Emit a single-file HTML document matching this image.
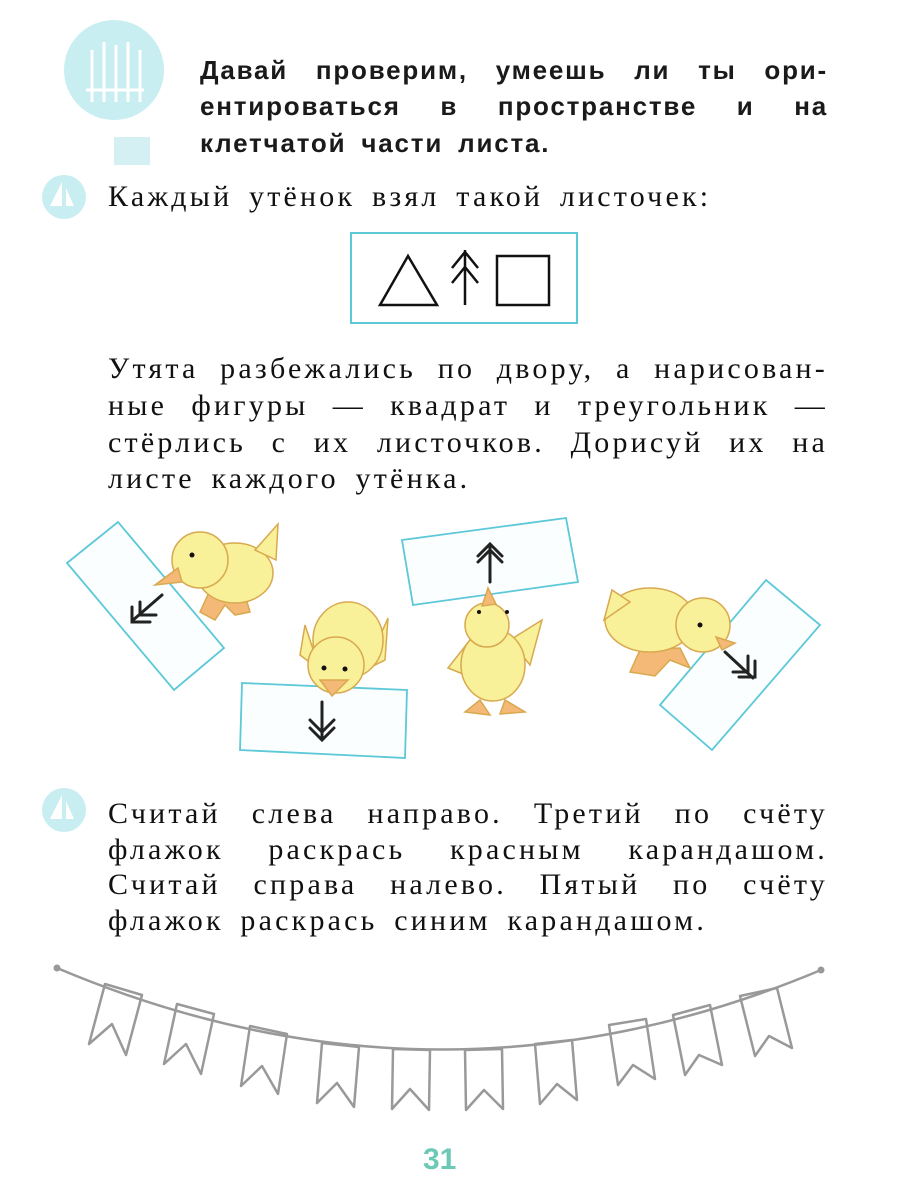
<!DOCTYPE html>
<html><head><meta charset="utf-8"><style>
body{margin:0;background:#fff;}
#p{position:relative;width:900px;height:1200px;overflow:hidden;background:#fff;}
.l{position:absolute;text-align:justify;text-align-last:justify;white-space:nowrap;color:#111;}
.s{font-family:"Liberation Serif",serif;font-size:30px;letter-spacing:3.2px;left:108px;width:720px;}
.b{font-family:"Liberation Sans",sans-serif;font-weight:bold;font-size:26px;letter-spacing:1.8px;left:200px;width:628px;color:#1a1a1a;}
svg{position:absolute;left:0;top:0;}
</style></head><body><div id="p">
<svg width="900" height="1200">
<circle cx="114" cy="70" r="50" fill="#c8eef2"/>
<g stroke="#fff" stroke-width="3" fill="none"><path d="M92 50v52M104 42v60M116 45v57M128 42v60M140 50v52M86 90h58"/></g>
<rect x="114" y="137" width="36" height="28" fill="#d4f0f3"/>
<circle cx="64" cy="197" r="22" fill="#c8eef2"/><path d="M62 182v24h-12zM66 188v18h8z" fill="#fff"/>
<circle cx="64" cy="810" r="22" fill="#c8eef2"/><path d="M62 795v24h-12zM66 801v18h8z" fill="#fff"/>
<rect x="351" y="233" width="226" height="90" fill="#fff" stroke="#5cc8d8" stroke-width="2"/>
<g stroke="#111" stroke-width="2.5" fill="none">
<path d="M380 305L408 256L437 305Z"/><rect x="497" y="256" width="52" height="49"/>
<path d="M465 305V250M452 268L465 252L478 268M452 283L465 267L478 283"/></g>
<g stroke="#5cc8d8" stroke-width="1.8" fill="#fafeff">
<polygon points="67,563 118,522 224,648 174,690"/>
<polygon points="242,683 407,690 405,758 240,750"/>
<polygon points="402,540 566,518 578,582 413,605"/>
<polygon points="660,705 766,580 820,625 712,750"/></g>
<g stroke="#222" stroke-width="3" fill="none" stroke-linecap="round">
<path d="M162 595L132 621M132 607V622H150M140 602V615H156"/>
<path d="M322 702V740M310 720L322 732L334 720M310 728L322 740L334 728"/>
<path d="M490 582V546M478 562L490 550L502 562M478 556L490 544L502 556"/>
<path d="M725 652L753 678M739 677H755V661M733 672H748V656"/></g>
<g stroke="#d8a94e" stroke-width="1.5" fill="#f9f09a">
<path d="M210 590L200 612L215 620L225 605L235 615L250 612L245 595Z" fill="#f4b877"/>
<ellipse cx="235" cy="573" rx="38" ry="30"/><path d="M255 550L278 524L276 560Z"/>
<circle cx="200" cy="560" r="28"/><path d="M178 568L155 585L182 582Z" fill="#f4b877"/>
<path d="M305 625L300 655L320 670Z"/><path d="M388 618L385 660L365 670Z"/>
<ellipse cx="348" cy="640" rx="35" ry="38"/><circle cx="336" cy="665" r="28"/>
<path d="M320 680L332 696L348 680Z" fill="#f4b877"/>
<path d="M480 700L465 712L490 715Z M505 700L500 714L525 712Z" fill="#f4b877"/>
<path d="M470 640L448 668L478 680Z"/><path d="M510 640L542 620L530 665Z"/>
<ellipse cx="493" cy="665" rx="32" ry="36"/><circle cx="487" cy="625" r="22"/>
<path d="M482 606L488 588L496 604Z" fill="#f4b877"/>
<path d="M640 650L630 672L655 676L670 660L690 668L680 648Z" fill="#f4b877"/>
<ellipse cx="650" cy="620" rx="45" ry="32"/><path d="M612 590L604 620L630 602Z"/>
<circle cx="703" cy="625" r="27"/><path d="M716 637L735 643L722 650Z" fill="#f4b877"/></g>
<g fill="#111"><circle cx="192" cy="555" r="2.5"/><circle cx="324" cy="668" r="2.5"/><circle cx="345" cy="669" r="2.5"/><circle cx="479" cy="612" r="2"/><circle cx="507" cy="612" r="2"/><circle cx="700" cy="625" r="2.5"/></g>
<g stroke="#999" stroke-width="2.5" fill="none" stroke-linejoin="round">
<path d="M57 968Q440 1130 821 970"/>
<polygon points="105,984 142,995 126,1055 112,1024 89,1044"/>
<polygon points="177,1004 214,1014 201,1074 186,1044 164,1064"/>
<polygon points="250,1026 287,1034 278,1094 262,1066 241,1086"/>
<polygon points="322,1043 359,1047 354,1107 337,1083 317,1103"/>
<polygon points="393,1049 430,1050 429,1110 410,1089 392,1109"/>
<polygon points="465,1050 502,1049 503,1109 484,1090 466,1110"/>
<polygon points="535,1044 572,1040 577,1100 557,1084 540,1104"/>
<polygon points="609,1025 646,1019 655,1079 633,1065 618,1085"/>
<polygon points="673,1015 710,1005 722,1065 699,1055 685,1075"/>
<polygon points="740,996 777,988 792,1048 769,1036 755,1056"/></g>
<circle cx="57" cy="968" r="3.5" fill="#999"/><circle cx="821" cy="970" r="3.5" fill="#999"/>
</svg>
<div class="l b" style="top:55px">Давай проверим, умеешь ли ты ори-</div>
<div class="l b" style="top:91px">ентироваться в пространстве и на</div>
<div class="l b" style="top:128px;text-align-last:left;word-spacing:6px">клетчатой части листа.</div>
<div class="l s" style="top:180px;text-align-last:left;word-spacing:6px">Каждый утёнок взял такой листочек:</div>
<div class="l s" style="top:352px">Утята разбежались по двору, а нарисован-</div>
<div class="l s" style="top:389px">ные фигуры — квадрат и треугольник —</div>
<div class="l s" style="top:426px">стёрлись с их листочков. Дорисуй их на</div>
<div class="l s" style="top:462px;text-align-last:left;word-spacing:6px">листе каждого утёнка.</div>
<div class="l s" style="top:797px">Считай слева направо. Третий по счёту</div>
<div class="l s" style="top:833px">флажок раскрась красным карандашом.</div>
<div class="l s" style="top:868px">Считай справа налево. Пятый по счёту</div>
<div class="l s" style="top:904px;text-align-last:left;word-spacing:6px">флажок раскрась синим карандашом.</div>
<div style="position:absolute;left:423px;top:1143px;font-family:'Liberation Sans',sans-serif;font-weight:bold;font-size:30px;color:#6cc9b5">31</div>
</div></body></html>
